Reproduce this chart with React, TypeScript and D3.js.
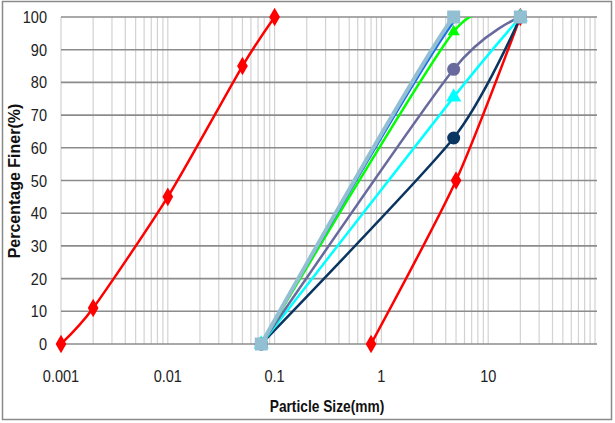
import React, { useEffect, useRef } from 'react'
import * as d3 from 'd3'

// sieve analysis curves, size in mm, percent finer
const clay = [[0.001, 0], [0.002, 11], [0.01, 45], [0.05, 85], [0.1, 100]]
const sand = [[0.8, 0], [5, 50], [20, 100]]
const mixNavy = [[0.075, 0], [4.75, 63], [20, 100]]
const mixCyan = [[0.075, 0], [4.75, 75.5], [20, 100]]
const mixPurple = [[0.075, 0], [4.75, 84], [20, 100]]
const mixGreen = [[0.075, 0], [4.75, 95.5], [20, 100]]
const mixBlue = [[0.075, 0], [4.75, 98.5], [20, 100]]
const mixLight = [[0.075, 0], [4.75, 100], [20, 100]]

const xTicks = [0.001, 0.01, 0.1, 1, 10]
const yTicks = [0, 10, 20, 30, 40, 50, 60, 70, 80, 90, 100]

const series = [
  { data: clay, color: '#ff0000', width: 2.5, marker: 'diamond', size: 10 },
  { data: sand, color: '#ff0000', width: 2.5, marker: 'diamond', size: 10 },
  { data: mixNavy, color: '#0b3561', width: 2.5, marker: 'circle', size: 6.5 },
  { data: mixCyan, color: '#00ffff', width: 2.5, marker: 'triangle', size: 10 },
  { data: mixPurple, color: '#686a9e', width: 2.5, marker: 'circle', size: 6.5 },
  { data: mixGreen, color: '#00ff00', width: 2.5, marker: 'triangle', size: 8 },
  { data: mixBlue, color: '#1a6fe6', width: 2.5, marker: 'none', size: 0 },
  { data: mixLight, color: '#93bfd3', width: 4, marker: 'square', size: 13 },
]

const W = 615, H = 423
const L = 61, R = 595, T = 17, B = 344

function Chart() {
  const ref = useRef<SVGSVGElement>(null)

  useEffect(() => {
    const svg = d3.select(ref.current)
    svg.selectAll('*').remove()

    const x = d3.scaleLog().domain([0.001, 100]).range([L, R])
    const y = d3.scaleLinear().domain([0, 100]).range([B, T])

    svg.append('rect')
      .attr('x', 0).attr('y', 0).attr('width', W).attr('height', H)
      .style('fill', '#fff')
    svg.append('rect')
      .attr('x', 2.5).attr('y', 1.5).attr('width', 609).attr('height', 418)
      .style('fill', 'none').style('stroke', '#8a8a8a').style('stroke-width', 1.5)

    svg.append('clipPath').attr('id', 'plotclip')
      .append('rect').attr('x', L).attr('y', T).attr('width', R - L).attr('height', B - T)

    // vertical log grid
    const minor: number[] = []
    for (let e = -3; e < 2; e++) {
      for (let k = 1; k <= 9; k++) minor.push(k * Math.pow(10, e))
    }
    minor.push(100)
    svg.append('g').selectAll('line').data(minor).enter().append('line')
      .attr('x1', d => x(d)).attr('x2', d => x(d))
      .attr('y1', T).attr('y2', B)
      .style('stroke', '#d2d2d2').style('stroke-width', 1.2)

    // horizontal grid
    svg.append('g').selectAll('line').data(yTicks).enter().append('line')
      .attr('x1', L).attr('x2', R + 2)
      .attr('y1', d => y(d)).attr('y2', d => y(d))
      .style('stroke', '#8c8c8c').style('stroke-width', 1.6)

    const tickFont = 'Liberation Sans, sans-serif'
    svg.append('g').selectAll('text').data(yTicks).enter().append('text')
      .text(d => d)
      .attr('transform', d => 'translate(47,' + (y(d) + 6) + ') scale(0.88,1)')
      .attr('text-anchor', 'end')
      .style('font-family', tickFont)
      .style('font-size', '16.5px').style('fill', '#222')

    svg.append('g').selectAll('text').data(xTicks).enter().append('text')
      .text(d => String(d))
      .attr('transform', d => 'translate(' + x(d) + ',382) scale(0.88,1)')
      .attr('text-anchor', 'middle')
      .style('font-family', tickFont)
      .style('font-size', '16.5px').style('fill', '#222')

    svg.append('text')
      .text('Particle Size(mm)')
      .attr('transform', 'translate(327,412) scale(0.86,1)')
      .attr('text-anchor', 'middle')
      .style('font-family', tickFont)
      .style('font-weight', 'bold').style('font-size', '16px').style('fill', '#111')

    svg.append('text')
      .text('Percentage Finer(%)')
      .attr('transform', 'translate(20,181) rotate(-90)')
      .attr('text-anchor', 'middle')
      .style('font-family', tickFont)
      .style('font-weight', 'bold').style('font-size', '16px').style('fill', '#111')

    const line = d3.line<number[]>()
      .x(d => x(d[0]))
      .y(d => y(d[1]))
      .curve(d3.curveCardinal.tension(0.3))

    const lines = svg.append('g').attr('clip-path', 'url(#plotclip)')
    series.forEach(s => {
      lines.append('path')
        .attr('d', line(s.data))
        .style('fill', 'none')
        .style('stroke', s.color)
        .style('stroke-width', s.width)
        .style('stroke-linejoin', 'round')
    })

    const symbols: Record<string, d3.SymbolType> = {
      diamond: d3.symbolDiamond,
      circle: d3.symbolCircle,
      triangle: d3.symbolTriangle,
      square: d3.symbolSquare,
    }
    series.forEach(s => {
      if (s.marker === 'none') return
      const sym = d3.symbol().type(symbols[s.marker]).size(s.size * s.size * (s.marker === 'circle' ? 3.14 : 1))
      svg.append('g').selectAll('path').data(s.data).enter().append('path')
        .attr('d', sym)
        .attr('transform', d => 'translate(' + x(d[0]) + ',' + y(d[1]) + ')')
        .style('fill', s.color)
    })
  }, [])

  return <svg ref={ref} width={W} height={H} style={{ position: 'absolute', left: 0, top: 0 }} />
}

export default function App() {
  return <Chart />
}
